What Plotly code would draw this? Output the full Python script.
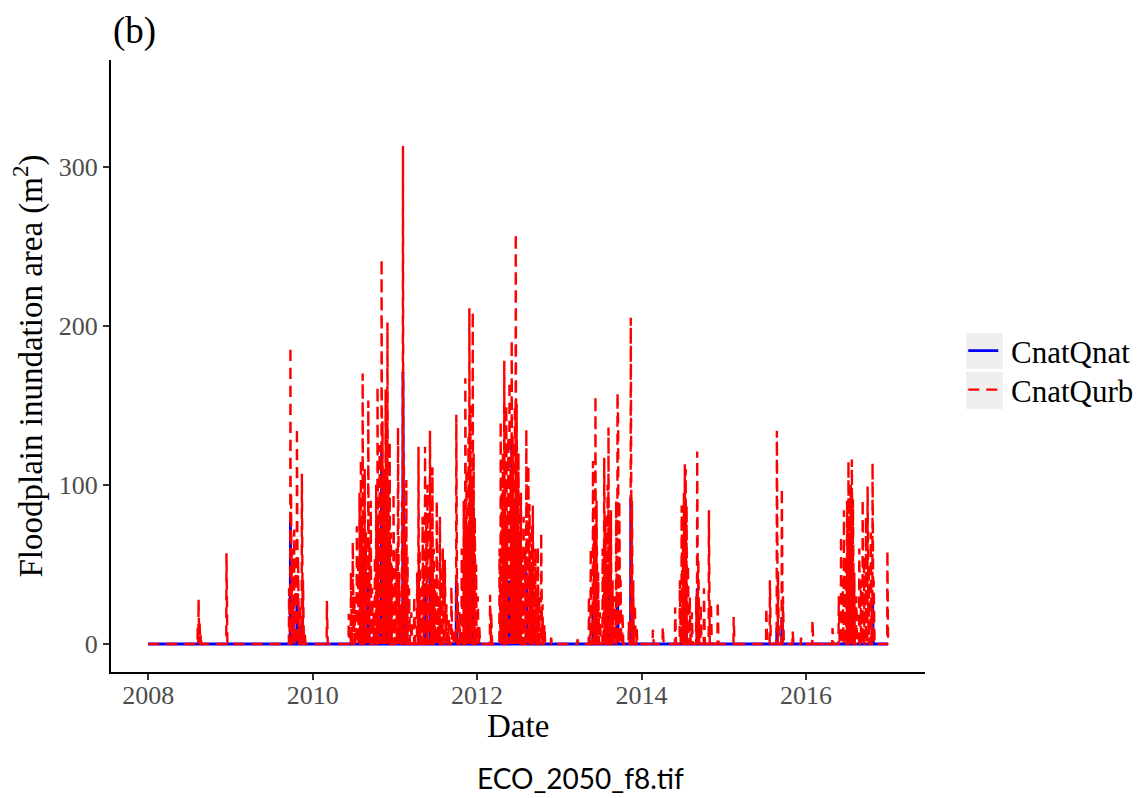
import pandas as pd
import plotly.graph_objects as go

# ---- data (daily series, zero unless listed) ----
start_date = "2008-01-01"
end_date = "2016-12-31"

qurb_dates = [
    "2008-08-08", "2008-08-12", "2008-08-16", "2008-08-22", "2008-12-14", "2008-12-17",
    "2009-09-18", "2009-09-24", "2009-09-27", "2009-10-01", "2009-10-06", "2009-10-11",
    "2009-10-17", "2009-10-23", "2009-10-28", "2009-11-04", "2009-11-14", "2009-11-19",
    "2009-11-26", "2010-03-05", "2010-06-10", "2010-06-20", "2010-06-28", "2010-07-05",
    "2010-07-16", "2010-07-22", "2010-07-28", "2010-08-03", "2010-08-07", "2010-08-11",
    "2010-08-15", "2010-08-20", "2010-08-25", "2010-08-30", "2010-09-05", "2010-09-10",
    "2010-09-16", "2010-09-22", "2010-09-28", "2010-10-04", "2010-10-10", "2010-10-16",
    "2010-10-20", "2010-10-25", "2010-10-29", "2010-11-03", "2010-11-07", "2010-11-12",
    "2010-11-16", "2010-11-21", "2010-11-25", "2010-11-29", "2010-12-03", "2010-12-09",
    "2010-12-14", "2010-12-19", "2010-12-26", "2011-01-02", "2011-01-08", "2011-01-15",
    "2011-01-20", "2011-01-27", "2011-02-02", "2011-02-06", "2011-02-10", "2011-02-15",
    "2011-02-21", "2011-02-26", "2011-03-05", "2011-03-15", "2011-03-28", "2011-04-10",
    "2011-04-16", "2011-04-21", "2011-04-27", "2011-05-04", "2011-05-10", "2011-05-15",
    "2011-05-20", "2011-05-26", "2011-06-01", "2011-06-06", "2011-06-11", "2011-06-17",
    "2011-06-23", "2011-06-29", "2011-07-06", "2011-07-12", "2011-07-20", "2011-07-26",
    "2011-08-02", "2011-08-11", "2011-08-18", "2011-08-28", "2011-09-09", "2011-09-20",
    "2011-10-01", "2011-10-06", "2011-10-15", "2011-10-25", "2011-11-03", "2011-11-10",
    "2011-11-15", "2011-11-20", "2011-11-24", "2011-11-28", "2011-12-02", "2011-12-07",
    "2011-12-13", "2011-12-17", "2011-12-22", "2011-12-28", "2012-01-04", "2012-01-11",
    "2012-02-28", "2012-03-04", "2012-04-10", "2012-04-15", "2012-04-20", "2012-04-25",
    "2012-05-01", "2012-05-05", "2012-05-10", "2012-05-14", "2012-05-19", "2012-05-24",
    "2012-05-29", "2012-06-03", "2012-06-07", "2012-06-12", "2012-06-17", "2012-06-21",
    "2012-06-25", "2012-06-29", "2012-07-03", "2012-07-08", "2012-07-14", "2012-07-20",
    "2012-07-26", "2012-08-01", "2012-08-07", "2012-08-11", "2012-08-16", "2012-08-21",
    "2012-08-26", "2012-09-01", "2012-09-05", "2012-09-10", "2012-09-16", "2012-09-22",
    "2012-09-27", "2012-10-03", "2012-10-12", "2012-10-18", "2012-10-26", "2012-11-25",
    "2013-03-22", "2013-05-12", "2013-05-20", "2013-05-30", "2013-06-04", "2013-06-10",
    "2013-06-15", "2013-06-22", "2013-06-30", "2013-07-12", "2013-07-19", "2013-07-24",
    "2013-07-30", "2013-08-03", "2013-08-07", "2013-08-12", "2013-08-18", "2013-08-25",
    "2013-09-02", "2013-09-10", "2013-09-16", "2013-09-19", "2013-09-24", "2013-09-30",
    "2013-10-08", "2013-11-05", "2013-11-14", "2013-11-19", "2013-11-25", "2013-12-02",
    "2013-12-10", "2014-02-20", "2014-04-05", "2014-05-30", "2014-06-20", "2014-06-28",
    "2014-07-04", "2014-07-08", "2014-07-12", "2014-07-16", "2014-07-20", "2014-07-26",
    "2014-08-03", "2014-08-12", "2014-09-01", "2014-09-05", "2014-09-10", "2014-09-20",
    "2014-10-05", "2014-10-27", "2014-11-05", "2014-12-05", "2015-02-14", "2015-07-09",
    "2015-07-25", "2015-08-25", "2015-08-30", "2015-09-16", "2015-09-21", "2015-11-03",
    "2015-12-10", "2016-01-30", "2016-03-20", "2016-04-28", "2016-05-26", "2016-06-05",
    "2016-06-12", "2016-06-18", "2016-06-25", "2016-07-02", "2016-07-08", "2016-07-13",
    "2016-07-18", "2016-07-23", "2016-07-28", "2016-08-03", "2016-08-12", "2016-08-25",
    "2016-09-02", "2016-09-09", "2016-09-15", "2016-09-24", "2016-10-01", "2016-10-06",
    "2016-10-15", "2016-10-23", "2016-10-28", "2016-12-28",
]
qurb_values = [
    10, 28, 15, 6, 57, 10,
    35, 187, 95, 60, 30, 72,
    45, 136, 55, 25, 107, 40,
    8, 27, 19, 45, 64, 30,
    74, 50, 95, 116, 80, 170,
    60, 110, 70, 45, 153, 65,
    90, 35, 20, 55, 100, 162,
    75, 125, 90, 242, 140, 110,
    60, 160, 85, 202, 100, 127,
    70, 50, 95, 40, 60, 136,
    45, 25, 90, 313, 120, 70,
    103, 55, 35, 20, 30, 45,
    124, 60, 35, 80, 50, 124,
    75, 100, 45, 134, 70, 111,
    60, 40, 90, 30, 80, 45,
    60, 53, 25, 15, 36, 10,
    144, 40, 20, 60, 90, 167,
    110, 70, 130, 211, 150, 100,
    209, 120, 80, 50, 30, 11,
    31, 20, 60, 140, 95, 120,
    178, 100, 150, 75, 130, 165,
    110, 191, 130, 90, 150, 258,
    151, 100, 120, 70, 95, 55,
    80, 60, 135, 90, 112, 88,
    50, 75, 87, 45, 60, 35,
    61, 30, 70, 25, 12, 4,
    3, 30, 60, 115, 70, 156,
    90, 45, 20, 60, 117, 80,
    50, 100, 136, 76, 84, 40,
    30, 90, 158, 138, 90, 40,
    20, 14, 205, 90, 40, 25,
    10, 9, 11, 23, 40, 87,
    60, 95, 113, 110, 87, 50,
    30, 20, 30, 121, 54, 25,
    35, 84, 26, 27, 17, 23,
    40, 134, 45, 98, 30, 8,
    4, 15, 2, 10, 30, 68,
    40, 84, 55, 90, 115, 70,
    100, 116, 91, 45, 30, 60,
    40, 91, 55, 80, 99, 50,
    70, 114, 40, 59,
]

qnat_dates = [
    "2009-09-24", "2009-10-23", "2009-11-14", "2010-08-03", "2010-08-11", "2010-09-05",
    "2010-10-16", "2010-11-03", "2010-11-29", "2010-12-09", "2011-02-06", "2011-02-21",
    "2011-04-16", "2011-05-15", "2011-06-06", "2011-06-17", "2011-10-01", "2011-11-10",
    "2011-11-28", "2011-12-13", "2012-05-01", "2012-05-24", "2012-06-03", "2012-06-21",
    "2012-08-07", "2012-09-05", "2013-05-30", "2013-06-10", "2013-08-07", "2013-09-16",
    "2013-11-14", "2014-07-12", "2014-07-16", "2014-09-05", "2015-08-25", "2015-09-16",
    "2016-07-08", "2016-07-23", "2016-10-23",
]
qnat_values = [
    80, 30, 15, 30, 58, 45,
    50, 121, 65, 40, 171, 30,
    20, 38, 45, 30, 40, 50,
    75, 97, 60, 40, 128, 61,
    45, 20, 25, 56, 44, 30,
    92, 25, 30, 35, 10, 17,
    25, 30, 28,
]

series_names = ["CnatQnat", "CnatQurb"]
series_colors = ["#0000FF", "#FF0000"]
year_ticks = ["2008-01-01", "2010-01-01", "2012-01-01", "2014-01-01", "2016-01-01"]
year_labels = ["2008", "2010", "2012", "2014", "2016"]
y_ticks = [0, 100, 200, 300]

# ---- build daily series ----
days = pd.date_range(start_date, end_date, freq="D")
qnat = pd.Series(0.0, index=days)
qnat.loc[pd.to_datetime(qnat_dates)] = qnat_values
qurb = pd.Series(0.0, index=days)
qurb.loc[pd.to_datetime(qurb_dates)] = qurb_values

SERIF = "Liberation Serif, Times New Roman, serif"

fig = go.Figure()
fig.add_trace(go.Scatter(
    x=qnat.index, y=qnat.values, mode="lines", name=" " + series_names[0],
    line=dict(color=series_colors[0], width=2.8), legend="legend",
))
fig.add_trace(go.Scatter(
    x=qurb.index, y=qurb.values, mode="lines", name=" " + series_names[1],
    line=dict(color=series_colors[1], width=2.4, dash="11px,7px"), legend="legend2",
))

# grey legend key backgrounds (ggplot style)
for y0, y1 in [(0.4951, 0.5539), (0.4297, 0.4902)]:
    fig.add_shape(type="rect", xref="paper", yref="paper", x0=1.0504, x1=1.0958,
                  y0=y0, y1=y1, fillcolor="#EFEFEF", line=dict(width=0), layer="below")

legend_style = dict(
    xanchor="left", yanchor="middle",
    font=dict(family=SERIF, size=31, color="black"),
    bgcolor="rgba(0,0,0,0)", itemwidth=30,
)

fig.update_layout(
    width=1143, height=798,
    margin=dict(l=111, r=218, t=60, b=126, autoexpand=False),
    paper_bgcolor="white", plot_bgcolor="white",
    font=dict(family=SERIF, color="black"),
    showlegend=True,
    legend=dict(x=1.047, y=0.5245, **legend_style),
    legend2=dict(x=1.047, y=0.4608, **legend_style),
    xaxis=dict(
        type="date", range=["2007-07-20", "2017-06-13"],
        tickvals=year_ticks, ticktext=year_labels,
        showgrid=False, zeroline=False,
        showline=True, linecolor="black", linewidth=2,
        ticks="outside", ticklen=6, tickwidth=1.5, tickcolor="#333333",
        ticklabelstandoff=-7,
        tickfont=dict(family=SERIF, size=26, color="#4D4D4D"),
    ),
    yaxis=dict(
        range=[-17.6, 367],
        tickvals=y_ticks,
        showgrid=False, zeroline=False,
        showline=True, linecolor="black", linewidth=2,
        ticks="outside", ticklen=6, tickwidth=1.5, tickcolor="#333333",
        tickfont=dict(family=SERIF, size=26, color="#4D4D4D"),
        title=dict(text="Floodplain inundation area (m<sup>2</sup>)",
                   font=dict(family=SERIF, size=33, color="black"), standoff=6),
    ),
    annotations=[
        dict(text="(b)", xref="paper", yref="paper", x=0.0, y=1.047,
             xanchor="left", yanchor="middle", showarrow=False,
             font=dict(family=SERIF, size=37, color="black")),
        dict(text="Date", xref="paper", yref="paper", x=0.5, y=-0.088,
             xanchor="center", yanchor="middle", showarrow=False,
             font=dict(family=SERIF, size=33, color="black")),
        dict(text="ECO_2050_f8.tif", xref="paper", yref="paper", x=0.577, y=-0.173,
             xanchor="center", yanchor="middle", showarrow=False,
             font=dict(family="Lato, Open Sans, sans-serif", size=28, color="black")),
    ],
)

fig.write_html("out.html")
